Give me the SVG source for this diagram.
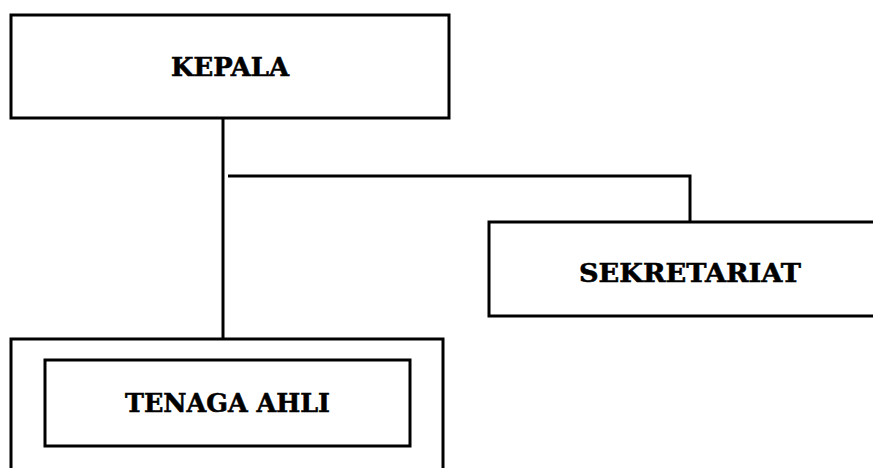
<svg xmlns="http://www.w3.org/2000/svg" width="873" height="468" viewBox="0 0 873 468">
<style>
.box{fill:#fff;stroke:#000;stroke-width:3}
.ln{fill:none;stroke:#000;stroke-width:3}
.t{font-family:"DejaVu Serif","Liberation Serif",serif;font-weight:bold;font-size:26px;fill:#000;stroke:#000;stroke-width:0.6;text-anchor:middle}
</style>
<rect width="873" height="468" fill="#fff"/>
<g id="connectors">
<line class="ln" x1="223" y1="118" x2="223" y2="339"/>
<polyline class="ln" points="228,176 690,176 690,222"/>
</g>
<g id="kepala">
<rect class="box" x="11" y="15" width="438" height="103"/>
<text class="t" x="230" y="76" textLength="118" lengthAdjust="spacingAndGlyphs">KEPALA</text>
</g>
<g id="sekretariat">
<rect class="box" x="489" y="222" width="402" height="94"/>
<text class="t" x="690" y="282" textLength="222" lengthAdjust="spacingAndGlyphs">SEKRETARIAT</text>
</g>
<g id="tenaga-ahli">
<rect class="box" x="11" y="339" width="432" height="160"/>
<rect class="box" x="45" y="360" width="365" height="86"/>
<text class="t" x="227.5" y="412" textLength="205" lengthAdjust="spacingAndGlyphs">TENAGA AHLI</text>
</g>
</svg>
